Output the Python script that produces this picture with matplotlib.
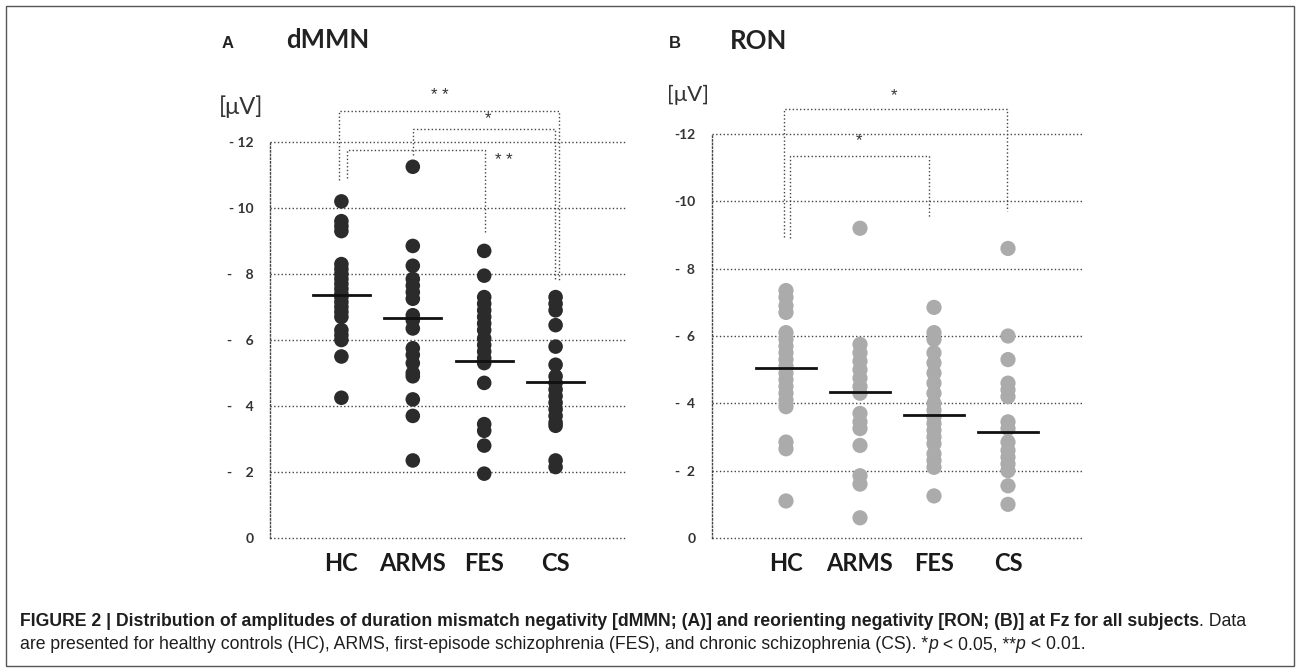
import matplotlib
matplotlib.use("Agg")
import matplotlib.pyplot as plt
from matplotlib import font_manager
from matplotlib.patches import Rectangle

W, H = 1296, 668

groups = ["HC", "ARMS", "FES", "CS"]

# panel A: dMMN amplitude per subject (plotted as magnitude, axis labels carry the minus)
dmmn_hc = [10.2, 9.6, 9.45, 9.3, 8.3, 8.15, 8.0, 7.85, 7.7, 7.55, 7.4, 7.3, 7.15,
           7.0, 6.85, 6.7, 6.3, 6.15, 6.0, 5.5, 4.25]
dmmn_arms = [11.25, 8.85, 8.25, 7.85, 7.65, 7.45, 7.25, 6.75, 6.6, 6.35, 5.75, 5.55,
             5.3, 5.0, 4.9, 4.2, 3.7, 2.35]
dmmn_fes = [8.7, 7.95, 7.3, 7.1, 6.9, 6.7, 6.5, 6.3, 6.05, 5.85, 5.65, 5.45, 5.3,
            4.7, 3.45, 3.25, 2.8, 1.95]
dmmn_cs = [7.3, 7.1, 6.9, 6.45, 5.8, 5.25, 4.9, 4.7, 4.5, 4.3, 4.1, 3.9, 3.7, 3.5,
           3.4, 2.35, 2.15]
dmmn_means = [7.35, 6.68, 5.35, 4.72]

# panel B: RON amplitude per subject
ron_hc = [7.35, 7.15, 6.9, 6.7, 6.1, 5.9, 5.7, 5.5, 5.3, 5.1, 4.9, 4.7, 4.5, 4.3,
          4.1, 3.9, 2.85, 2.65, 1.1]
ron_arms = [9.2, 5.75, 5.5, 5.25, 5.0, 4.75, 4.5, 4.3, 3.7, 3.45, 3.25, 2.75, 1.85,
            1.6, 0.6]
ron_fes = [6.85, 6.1, 5.9, 5.5, 5.2, 4.9, 4.6, 4.3, 4.0, 3.8, 3.6, 3.4, 3.2, 3.0,
           2.8, 2.5, 2.3, 2.1, 1.25]
ron_cs = [8.6, 6.0, 5.3, 4.6, 4.4, 4.2, 3.45, 3.25, 2.85, 2.6, 2.4, 2.2, 2.0, 1.55, 1.0]
ron_means = [5.05, 4.35, 3.65, 3.15]

ytick_vals = [0, 2, 4, 6, 8, 10, 12]
ytick_labels_a = ["0", "-    2", "-    4", "-    6", "-    8", "- 10", "- 12"]
ytick_labels_b = ["0", "-  2", "-  4", "-  6", "-  8", "-10", "-12"]

# significance brackets: left x, right x, top, left leg end, right leg end, stars, star x, star y
brackets_a = [(0.97, 4.05, 12.95, 10.85, 7.8, "* *", 2.38, 13.4),
              (2.0, 3.99, 12.4, 11.6, 7.8, "*", 3.05, 12.7),
              (1.08, 3.01, 11.75, 10.9, 9.25, "* *", 3.28, 11.45)]
brackets_b = [(0.97, 3.99, 12.75, 8.95, 9.7, "*", 2.46, 13.15),
              (1.05, 2.93, 11.35, 8.9, 9.5, "*", 1.99, 11.8)]

available = {f.name for f in font_manager.fontManager.ttflist}
chart_font = "Lato" if "Lato" in available else "DejaVu Sans"
cap_font = "Liberation Sans"


def px(x, y):
    return x / W, 1 - y / H


def draw_panel(ax, values, means, color, size, ticklabels, brackets):
    for i, vals in enumerate(values, start=1):
        ax.scatter([i] * len(vals), vals, s=size, color=color, edgecolors="none",
                   zorder=3, clip_on=False)
        ax.plot([i - 0.4, i + 0.4], [means[i - 1]] * 2, color="#111111", lw=2, zorder=4)

    for x1, x2, top, yl, yr, stars, sx, sy in brackets:
        ax.plot([x1, x1, x2, x2], [yl, top, top, yr], color="#444444", lw=1,
                linestyle=":", clip_on=False, zorder=2)
        ax.text(sx, sy, stars, ha="center", va="center", fontsize=12,
                fontfamily="Liberation Sans", color="#333333", clip_on=False)

    ax.set_xlim(0, 5)
    ax.set_ylim(0, 12)
    ax.set_yticks(ytick_vals)
    ax.set_yticklabels(ticklabels, fontfamily=chart_font, fontweight="bold",
                       fontsize=10, color="#333333")
    ax.set_xticks([1, 2, 3, 4])
    ax.set_xticklabels(groups, fontfamily=chart_font, fontweight="bold", fontsize=17,
                       color="#1a1a1a")
    ax.tick_params(axis="y", length=0, pad=12)
    ax.tick_params(axis="x", length=0, pad=10)
    ax.grid(axis="y", linestyle=":", color="#444444", lw=1)
    for gl in ax.get_ygridlines():
        gl.set_clip_on(False)
    for side in ["top", "right", "bottom"]:
        ax.spines[side].set_visible(False)
    ax.spines["left"].set_linestyle(":")
    ax.spines["left"].set_color("#444444")
    ax.spines["left"].set_linewidth(1)


fig = plt.figure(figsize=(W / 100, H / 100), dpi=100)

ax_a = fig.add_axes([270 / W, (H - 538) / H, 357 / W, 396 / H])
draw_panel(ax_a, [dmmn_hc, dmmn_arms, dmmn_fes, dmmn_cs], dmmn_means, "#2b2b2b", 110,
           ytick_labels_a, brackets_a)

ax_b = fig.add_axes([712 / W, (H - 538) / H, 370 / W, 404 / H])
draw_panel(ax_b, [ron_hc, ron_arms, ron_fes, ron_cs], ron_means, "#ababab", 120,
           ytick_labels_b, brackets_b)

# panel titles and unit labels
fig.text(*px(222, 43), "A", fontfamily="Liberation Sans", fontweight="bold", fontsize=12,
         va="center", color="#222222")
fig.text(*px(286, 40), "dMMN", fontfamily=chart_font, fontweight="bold", fontsize=18.5,
         va="center", color="#222222")
fig.text(*px(669, 43), "B", fontfamily="Liberation Sans", fontweight="bold", fontsize=12,
         va="center", color="#222222")
fig.text(*px(730, 41), "RON", fontfamily=chart_font, fontweight="bold", fontsize=18.5,
         va="center", color="#222222")
fig.text(*px(219, 107), "[\u03bcV]", fontfamily=chart_font, fontsize=17,
         va="center", color="#333333")
fig.text(*px(667, 95), "[\u03bcV]", fontfamily=chart_font, fontsize=16,
         va="center", color="#333333")

# caption with mixed weights, laid out piece by piece
renderer = fig.canvas.get_renderer()


def runs(x, y, pieces, size=12.7):
    fx, fy = px(x, y)
    for s, weight, style in pieces:
        t = fig.text(fx, fy, s, fontfamily=cap_font, fontweight=weight, fontstyle=style,
                     fontsize=size, color="#1e1e1e", va="baseline")
        fx += t.get_window_extent(renderer).width / fig.bbox.width


runs(20, 626, [("FIGURE 2 | Distribution of amplitudes of duration mismatch negativity "
                "[dMMN; (A)] and reorienting negativity [RON; (B)] at Fz for all subjects",
                "bold", "normal"),
               (". Data", "normal", "normal")])
runs(20, 649, [("are presented for healthy controls (HC), ARMS, first-episode schizophrenia "
                "(FES), and chronic schizophrenia (CS). *", "normal", "normal"),
               ("p", "normal", "italic"),
               (" < 0.05, **", "normal", "normal"),
               ("p", "normal", "italic"),
               (" < 0.01.", "normal", "normal")])

fig.patches.append(Rectangle(px(6, 666), 1288 / W, 660 / H, transform=fig.transFigure,
                             fill=False, edgecolor="#555555", lw=1))

fig.savefig("out.png", dpi=100)
